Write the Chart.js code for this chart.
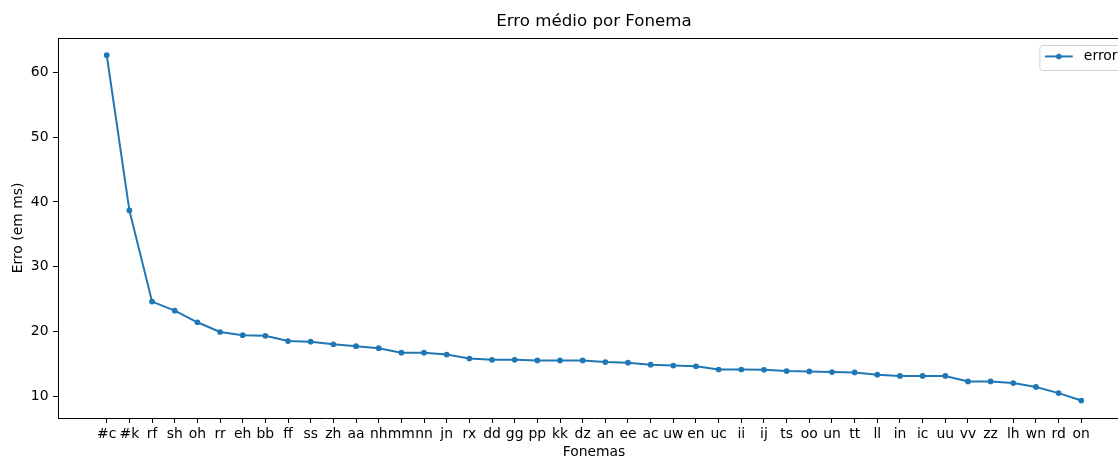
<!DOCTYPE html>
<html>
<head>
<meta charset="utf-8">
<script src="https://cdn.jsdelivr.net/npm/chart.js@4/dist/chart.umd.min.js"></script>
<style>
  html, body { margin: 0; padding: 0; background: #fff; overflow: hidden; }
  #wrap { width: 1140px; height: 465px; }
</style>
</head>
<body>
<div id="wrap"><canvas id="c" width="1140" height="465"></canvas></div>
<script>
const categories = ["#c","#k","rf","sh","oh","rr","eh","bb","ff","ss","zh","aa","nh","mm","nn","jn","rx","dd","gg","pp","kk","dz","an","ee","ac","uw","en","uc","ii","ij","ts","oo","un","tt","ll","in","ic","uu","vv","zz","lh","wn","rd","on"];
const errorValues = [62.7,38.7,24.6,23.2,21.4,19.9,19.4,19.3,18.5,18.4,18.0,17.7,17.4,16.7,16.7,16.4,15.8,15.6,15.6,15.5,15.5,15.5,15.25,15.15,14.85,14.7,14.6,14.1,14.1,14.05,13.85,13.8,13.7,13.65,13.3,13.1,13.1,13.1,12.25,12.25,12.0,11.4,10.45,9.3];
const yTicks = [10,20,30,40,50,60];
const seriesLabel = "error";
const titleText = "Erro médio por Fonema";
const xTitle = "Fonemas";
const yTitle = "Erro (em ms)";

const BLUE = '#1f77b4';
const FONT = 'DejaVu Sans';

const frameAndLegend = {
  id: 'frameAndLegend',
  afterDraw(chart) {
    const {ctx, chartArea: a} = chart;
    ctx.save();
    // top & right spines
    ctx.strokeStyle = '#000';
    ctx.lineWidth = 1;
    ctx.beginPath();
    ctx.moveTo(a.left, a.top + 0.5);
    ctx.lineTo(a.right, a.top + 0.5);
    ctx.lineTo(a.right, a.bottom);
    ctx.stroke();
    // legend
    const fs = 13.9;
    ctx.font = fs + 'px "' + FONT + '"';
    const tw = ctx.measureText(seriesLabel).width;
    const pad = 0.4 * fs, hl = 2.0 * fs, htp = 0.8 * fs;
    const w = pad + hl + htp + tw + pad;
    const h = 25;
    const x = a.right - 0.5 * fs - w;
    const y = a.top + 0.5 * fs;
    ctx.fillStyle = 'rgba(255,255,255,0.8)';
    ctx.strokeStyle = '#d0d0d0';
    ctx.lineWidth = 1;
    ctx.beginPath();
    if (ctx.roundRect) ctx.roundRect(x + 0.5, y + 0.5, w, h, 3); else ctx.rect(x + 0.5, y + 0.5, w, h);
    ctx.fill();
    ctx.stroke();
    const cy = y + h / 2 - 1;
    ctx.strokeStyle = BLUE;
    ctx.lineWidth = 2;
    ctx.beginPath();
    ctx.moveTo(x + pad, cy);
    ctx.lineTo(x + pad + hl, cy);
    ctx.stroke();
    ctx.fillStyle = BLUE;
    ctx.beginPath();
    ctx.arc(x + pad + hl / 2, cy, 2.8, 0, Math.PI * 2);
    ctx.fill();
    ctx.fillStyle = '#000';
    ctx.textBaseline = 'middle';
    ctx.textAlign = 'left';
    ctx.fillText(seriesLabel, x + pad + hl + htp, cy);
    ctx.restore();
  }
};

new Chart(document.getElementById('c'), {
  type: 'line',
  data: {
    datasets: [{
      label: seriesLabel,
      data: errorValues.map((v, i) => ({x: i, y: v})),
      borderColor: BLUE,
      backgroundColor: BLUE,
      borderWidth: 2,
      pointRadius: 2.2,
      pointBorderWidth: 1.3,
      pointBackgroundColor: BLUE,
      pointBorderColor: BLUE,
      tension: 0,
      fill: false
    }]
  },
  options: {
    responsive: false,
    animation: false,
    devicePixelRatio: 1,
    layout: { padding: { left: 0, right: 10, top: 0, bottom: 0 } },
    plugins: {
      legend: { display: false },
      tooltip: { enabled: false },
      title: {
        display: true,
        fullSize: false,
        text: titleText,
        color: '#000',
        font: { family: FONT, size: 16.67, weight: 'normal', lineHeight: 1.2 },
        padding: { top: 12, bottom: 6 }
      }
    },
    scales: {
      x: {
        type: 'linear',
        min: -2.15,
        max: 45.15,
        afterBuildTicks(scale) { scale.ticks = categories.map((_, i) => ({ value: i })); },
        afterFit(scale) { scale.height = 47; },
        ticks: {
          autoSkip: false,
          maxRotation: 0,
          minRotation: 0,
          padding: 3,
          color: '#000',
          font: { family: FONT, size: 13.9 },
          callback: (v) => categories[v]
        },
        grid: { display: true, drawOnChartArea: false, drawTicks: true, tickLength: 5, color: '#000', tickWidth: 1 },
        border: { display: true, color: '#000', width: 1 },
        title: {
          display: true,
          text: xTitle,
          color: '#000',
          font: { family: FONT, size: 13.9, lineHeight: 1.2 },
          padding: { top: 0, bottom: 4 }
        }
      },
      y: {
        type: 'linear',
        min: 6.6,
        max: 65.35,
        afterBuildTicks(scale) { scale.ticks = yTicks.map(v => ({ value: v })); },
        afterFit(scale) { scale.width = 58; },
        ticks: {
          padding: 4.5,
          color: '#000',
          font: { family: FONT, size: 13.9 },
          callback: (v) => String(v)
        },
        grid: { display: true, drawOnChartArea: false, drawTicks: true, tickLength: 5, color: '#000', tickWidth: 1 },
        border: { display: true, color: '#000', width: 1 },
        title: {
          display: true,
          text: yTitle,
          color: '#000',
          font: { family: FONT, size: 13.9, lineHeight: 1.2 },
          padding: { top: 10, bottom: 0 }
        }
      }
    }
  },
  plugins: [frameAndLegend]
});
</script>
</body>
</html>
